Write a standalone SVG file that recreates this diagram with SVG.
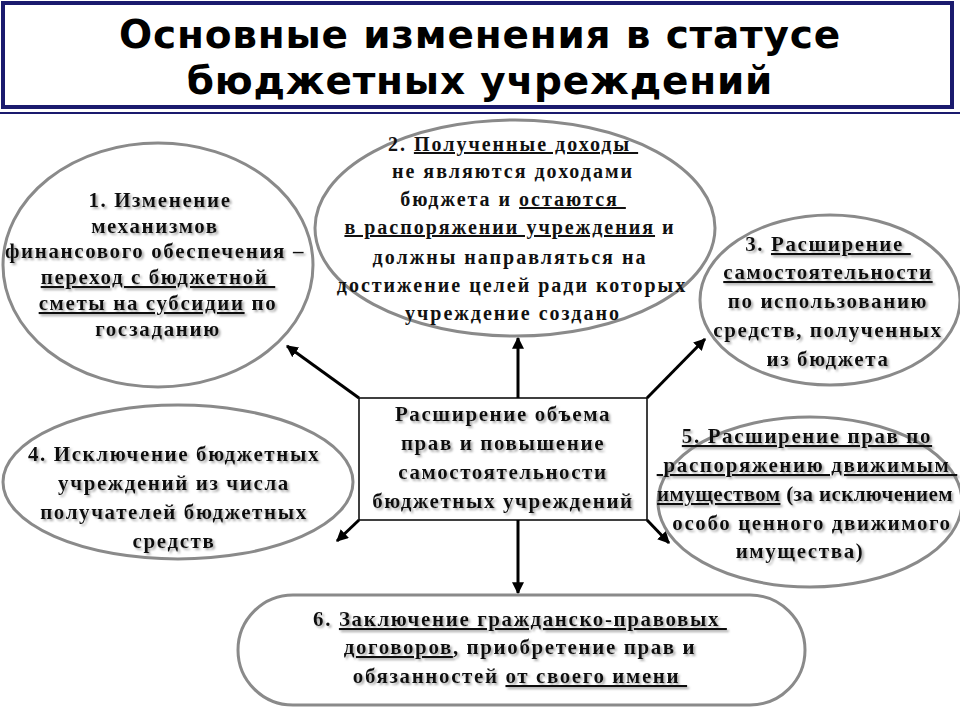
<svg xmlns="http://www.w3.org/2000/svg" width="960" height="720" viewBox="0 0 960 720">
<defs>
<style>
.t{font-family:"Liberation Serif","Times New Roman",serif;font-weight:bold;font-size:21px;letter-spacing:1.6px;fill:#111;text-anchor:middle;filter:url(#sh)}
.u{text-decoration:underline}
.sh{fill:#fff;stroke:#8a8a8a;stroke-width:3}
.c{stroke:#000;stroke-width:3;fill:none;marker-end:url(#ar)}
</style>
<filter id="sh" x="-5%" y="-20%" width="110%" height="150%"><feDropShadow dx="2" dy="2" stdDeviation="1" flood-color="#888" flood-opacity="0.7"/></filter>
<marker id="ar" viewBox="0 0 10 10" refX="9" refY="5" markerWidth="4" markerHeight="4" orient="auto"><path d="M0,0L10,5L0,10z" fill="#000"/></marker>
</defs>
<rect width="960" height="720" fill="#fff"/>
<g id="title">
<rect x="3" y="3" width="949" height="104" fill="#fff" stroke="#1a1a6e" stroke-width="4"/>
<line x1="0" y1="113" x2="960" y2="113" stroke="#1a1a6e" stroke-width="2"/>
<text x="480" y="48" font-family="DejaVu Sans,sans-serif" font-weight="bold" font-size="39" letter-spacing="0.8" text-anchor="middle">Основные изменения в статусе</text>
<text x="480" y="94" font-family="DejaVu Sans,sans-serif" font-weight="bold" font-size="39" letter-spacing="0.8" text-anchor="middle">бюджетных учреждений</text>
</g>
<g id="connectors">
<line class="c" x1="359" y1="398" x2="287" y2="346"/>
<line class="c" x1="518" y1="398" x2="518" y2="338"/>
<line class="c" x1="647" y1="398" x2="705" y2="339"/>
<line class="c" x1="359" y1="520" x2="337" y2="541"/>
<line class="c" x1="647" y1="520" x2="669" y2="543"/>
<line class="c" x1="518" y1="520" x2="518" y2="593"/>
</g>
<g id="n1">
<ellipse class="sh" cx="158" cy="265" rx="155" ry="122"/>
<text class="t"><tspan x="160" y="207">1. Изменение</tspan><tspan x="155" y="233">механизмов</tspan><tspan x="155" y="258">финансового обеспечения –</tspan><tspan x="158" y="284" class="u">переход с бюджетной&#160;</tspan><tspan x="158" y="310"><tspan class="u">сметы на субсидии</tspan> по</tspan><tspan x="158" y="336">госзаданию</tspan></text>
</g>
<g id="n2">
<ellipse class="sh" cx="515" cy="228" rx="200" ry="108"/>
<text class="t" style="font-size:20px;letter-spacing:2px;filter:none"><tspan x="513" y="151">2. <tspan class="u">Полученные доходы&#160;</tspan></tspan><tspan x="513" y="178">не являются доходами</tspan><tspan x="513" y="206">бюджета и <tspan class="u">остаются&#160;</tspan></tspan><tspan x="510" y="234"><tspan class="u">в распоряжении учреждения</tspan> и</tspan><tspan x="510" y="264">должны направляться на</tspan><tspan x="512" y="292">достижение целей ради которых</tspan><tspan x="513" y="320">учреждение создано</tspan></text>
</g>
<g id="n3">
<ellipse class="sh" cx="830" cy="300" rx="130" ry="85"/>
<text class="t"><tspan x="828" y="251">3. <tspan class="u">Расширение&#160;</tspan></tspan><tspan x="828" y="279" class="u">самостоятельности</tspan><tspan x="828" y="308">по использованию</tspan><tspan x="828" y="337">средств, полученных</tspan><tspan x="828" y="366">из бюджета</tspan></text>
</g>
<g id="n4">
<ellipse class="sh" cx="178" cy="482" rx="175" ry="77"/>
<text class="t"><tspan x="174" y="461">4. Исключение бюджетных</tspan><tspan x="174" y="490">учреждений из числа</tspan><tspan x="174" y="519">получателей бюджетных</tspan><tspan x="174" y="548">средств</tspan></text>
</g>
<g id="n5">
<ellipse class="sh" cx="810" cy="502" rx="152" ry="85"/>
<text class="t"><tspan x="807" y="443" class="u">5. Расширение прав по</tspan><tspan x="807" y="472" class="u">&#160;распоряжению движимым&#160;</tspan><tspan x="805" y="501" style="letter-spacing:0.4px"><tspan class="u">имуществом</tspan> (за исключением</tspan><tspan x="812" y="530">особо ценного движимого</tspan><tspan x="800" y="558">имущества)</tspan></text>
</g>
<g id="n6">
<rect class="sh" x="238" y="595" width="567" height="110" rx="55"/>
<text class="t"><tspan x="520" y="626">6. <tspan class="u">Заключение гражданско-правовых&#160;</tspan></tspan><tspan x="520" y="654"><tspan class="u">договоров</tspan>, приобретение прав и</tspan><tspan x="520" y="683">обязанностей <tspan class="u">от своего имени&#160;</tspan></tspan></text>
</g>
<g id="center">
<rect x="359" y="398" width="288" height="122" fill="#fff" stroke="#000" stroke-width="1.5"/>
<text class="t"><tspan x="503" y="421">Расширение объема</tspan><tspan x="503" y="450">прав и повышение</tspan><tspan x="503" y="479">самостоятельности</tspan><tspan x="503" y="508">бюджетных учреждений</tspan></text>
</g>
</svg>
